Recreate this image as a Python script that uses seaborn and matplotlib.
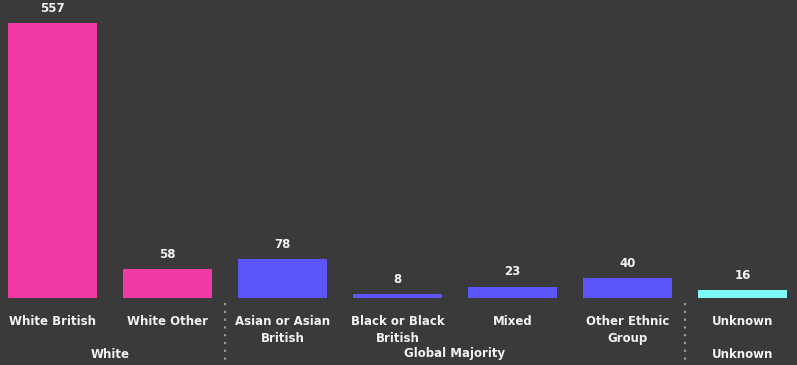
import matplotlib
matplotlib.use("Agg")
import matplotlib.pyplot as plt
import matplotlib.transforms as mtransforms
import pandas as pd
import seaborn as sns

# Data
categories = ["White British", "White Other", "Asian or Asian\nBritish",
              "Black or Black\nBritish", "Mixed", "Other Ethnic\nGroup", "Unknown"]
values = [557, 58, 78, 8, 23, 40, 16]
groups = ["White", "White", "Global Majority", "Global Majority",
          "Global Majority", "Global Majority", "Unknown"]
group_names = ["White", "Global Majority", "Unknown"]
palette = {"White": "#F23AA6", "Global Majority": "#5C55FA", "Unknown": "#7EF9F9"}

df = pd.DataFrame({"category": categories, "value": values, "group": groups})

bg = "#3A3A3A"
txt = "#F2F2F2"
sns.set_style("dark")
plt.rcParams["font.family"] = ["DejaVu Sans"]
fs = 8.5

W, H = 797, 365
fig = plt.figure(figsize=(W / 100, H / 100), dpi=100, facecolor=bg)
# axes spans slightly wider than the figure so bar slots line up
ax = fig.add_axes([-5 / W, (H - 298) / H, 805 / W, 298 / H], facecolor=bg)

sns.barplot(data=df, x="category", y="value", hue="group", palette=palette,
            dodge=False, width=0.775, legend=False, ax=ax, saturation=1,
            linewidth=0, edgecolor="none")

ax.set_ylim(0, 557 * 298 / 275)
ax.set_xlim(-0.5, 6.5)
for s in ax.spines.values():
    s.set_visible(False)
ax.grid(False)
ax.set_yticks([])
ax.set_xlabel("")
ax.set_ylabel("")
ax.tick_params(axis="x", length=0, pad=12, colors=txt)
for lab in ax.get_xticklabels():
    lab.set_fontweight("bold")
    lab.set_fontsize(fs)
    lab.set_linespacing(1.45)
    lab.set_color(txt)

# value labels
for i, v in enumerate(values):
    ax.annotate(str(v), (i, v), xytext=(0, 6), textcoords="offset points",
                ha="center", va="bottom", color=txt, fontsize=fs,
                fontweight="bold")

# group labels and separators
trans = mtransforms.blended_transform_factory(ax.transData, ax.transAxes)
idx = 0
bounds = []
for g in group_names:
    n = groups.count(g)
    center = idx + (n - 1) / 2
    ax.text(center, -56 / 298, g, transform=trans, ha="center", va="center",
            color=txt, fontsize=fs, fontweight="bold")
    idx += n
    bounds.append(idx - 0.5)
for b in bounds[:-1]:
    ax.plot([b, b], [-5 / 298, -67 / 298], transform=trans, clip_on=False,
            color="#9A9A9A", linestyle=(0, (1, 2.5)), linewidth=1.6)

fig.savefig("out.png", dpi=100, facecolor=bg)
